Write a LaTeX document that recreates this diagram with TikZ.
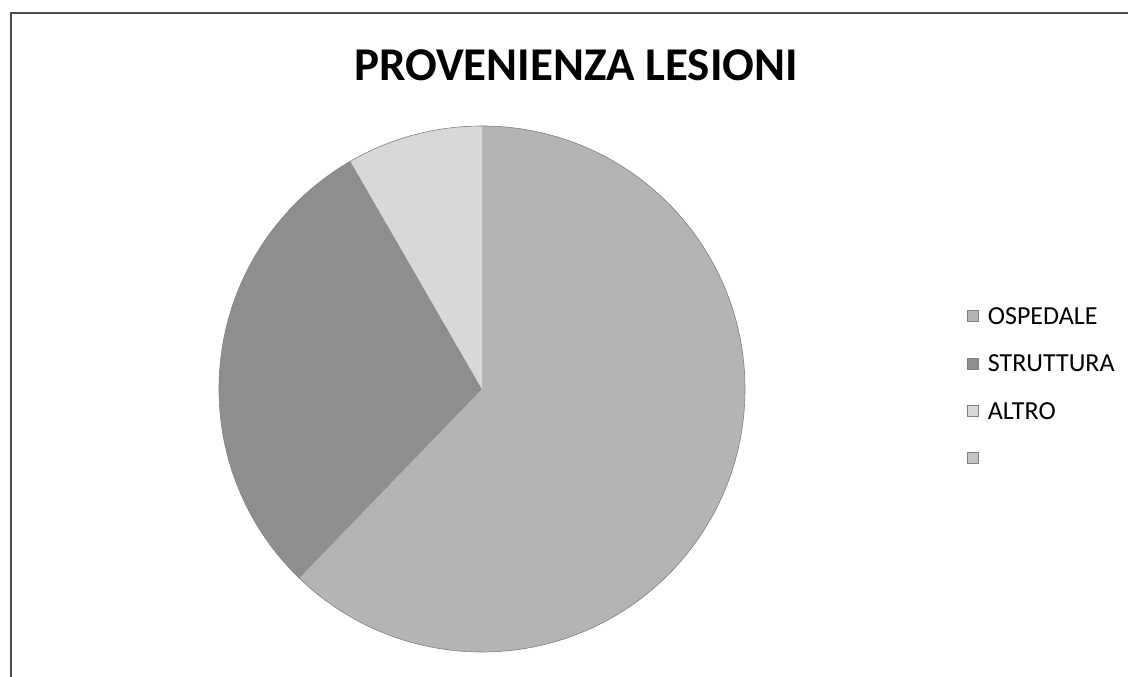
\documentclass[tikz,border=0pt]{standalone}
\usepackage{fontspec}
\setmainfont{Carlito}
\usetikzlibrary{positioning}
\definecolor{ospedale}{HTML}{B4B4B4}
\definecolor{struttura}{HTML}{8E8E8E}
\definecolor{altro}{HTML}{D8D8D8}
\definecolor{vuoto}{HTML}{C4C4C4}

\begin{document}
\begin{tikzpicture}[x=1pt,y=1pt,
  slice/.style={draw=black!50, line width=0.6pt},
  key/.style={draw=black!50, minimum size=11pt, inner sep=0pt},
  keytext/.style={font=\fontsize{26}{26}\selectfont, anchor=west, inner sep=0pt}]
\useasboundingbox (0,0) rectangle (1128,677);
\draw[black!70, line width=1.2pt] (11,0) -- (11,664) -- (1128,664);
\node (title) at (576,612) {\fontsize{47}{47}\selectfont\bfseries PROVENIENZA LESIONI};
\coordinate (c) at (482,288);
\fill[ospedale] (c) -- ++(90:263) arc (90:-134:263) -- cycle;
\fill[struttura] (c) -- ++(226:263) arc (226:120:263) -- cycle;
\fill[altro] (c) -- ++(120:263) arc (120:90:263) -- cycle;
\draw[slice] (c) circle (263);
\node[key, fill=ospedale] (k1) at (973,361) {};
\node[keytext, right=9pt of k1] (l1) {OSPEDALE};
\node[key, fill=struttura, below=36pt of k1] (k2) {};
\node[keytext, right=9pt of k2] (l2) {STRUTTURA};
\node[key, fill=altro, below=36pt of k2] (k3) {};
\node[keytext, right=9pt of k3] (l3) {ALTRO};
\node[key, fill=vuoto, below=36pt of k3] (k4) {};
\end{tikzpicture}
\end{document}
